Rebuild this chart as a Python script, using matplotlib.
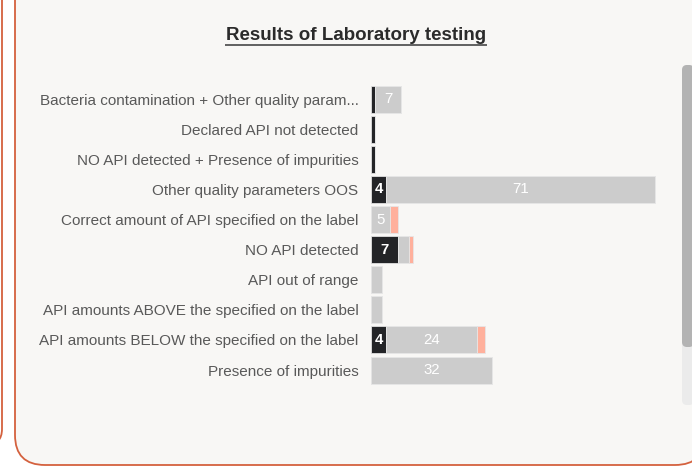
import matplotlib
matplotlib.use("Agg")
import matplotlib.pyplot as plt
from matplotlib.patches import FancyBboxPatch
import numpy as np

plt.rcParams['font.family'] = ['Liberation Sans', 'DejaVu Sans']

categories = [
    "Bacteria contamination + Other quality param...",
    "Declared API not detected",
    "NO API detected + Presence of impurities",
    "Other quality parameters OOS",
    "Correct amount of API specified on the label",
    "NO API detected",
    "API out of range",
    "API amounts ABOVE the specified on the label",
    "API amounts BELOW the specified on the label",
    "Presence of impurities",
]
dark_vals = [1, 1, 1, 4, 0, 7, 0, 0, 4, 0]
grey_vals = [7, 0, 0, 71, 5, 3, 3, 3, 24, 32]
salmon_vals = [0, 0, 0, 0, 2, 1, 0, 0, 2, 0]
title = "Results of Laboratory testing"

W, H = 692, 466
fig = plt.figure(figsize=(W / 100, H / 100), dpi=100)
fig.patch.set_facecolor("white")

# background / card
bg = fig.add_axes([0, 0, 1, 1])
bg.set_xlim(0, W)
bg.set_ylim(H, 0)
bg.axis("off")
border = "#d4613e"
left_panel = FancyBboxPatch((-60, -40), 62, 485, boxstyle="round,pad=0,rounding_size=16",
                            facecolor="white", edgecolor=border, lw=1.3)
bg.add_patch(left_panel)
card = FancyBboxPatch((15, -40), 690, 505, boxstyle="round,pad=0,rounding_size=30",
                      facecolor="#f8f7f5", edgecolor=border, lw=1.3)
bg.add_patch(card)
# scrollbar
track = FancyBboxPatch((682, 65), 12, 340, boxstyle="round,pad=0,rounding_size=5",
                       facecolor="#ebebeb", edgecolor="none")
bg.add_patch(track)
thumb = FancyBboxPatch((682, 65), 12, 282, boxstyle="round,pad=0,rounding_size=5",
                       facecolor="#b3b3b3", edgecolor="none")
bg.add_patch(thumb)
# title
bg.text(356, 35.5, title, ha="center", va="center", fontsize=13.5, fontweight="bold", color="#2b2b2b")
bg.plot([225, 487], [45, 45], color="#555555", lw=1.3, solid_capstyle="butt")

# chart axes
ax_left = 371 / W
ax_w = (79 * 3.79) / W
ax_bottom = 1 - 385.1 / H
ax_h = 301 / H
ax = fig.add_axes([ax_left, ax_bottom, ax_w, ax_h])
ax.set_facecolor("none")
y = np.arange(len(categories))
dark = np.array(dark_vals)
grey = np.array(grey_vals)
salmon = np.array(salmon_vals)
bh = 0.9
ec = "#e6e6e6"
ax.barh(y, dark, height=bh, color="#232427", edgecolor="#e0e0e0", lw=0.6)
ax.barh(y, grey, left=dark, height=bh, color="#cccccc", edgecolor=ec, lw=0.6)
ax.barh(y, salmon, left=dark + grey, height=bh, color="#ffb09c", edgecolor=ec, lw=0.6)

for vals, lefts, bold in ((dark, np.zeros_like(dark), True), (grey, dark, False)):
    for i, (v, l) in enumerate(zip(vals, lefts)):
        if v >= 4:
            ax.text(l + v / 2, i, str(v), ha="center", va="center", color="white",
                    fontsize=10.8, fontweight="bold" if bold else "normal")

ax.set_xlim(0, 79)
ax.set_ylim(len(categories) - 0.5, -0.5)
ax.set_yticks(y)
ax.set_yticklabels(categories, fontsize=10.95, color="#595959")
ax.tick_params(axis="y", length=0, pad=9)
ax.set_xticks([])
for s in ax.spines.values():
    s.set_visible(False)

fig.savefig("out.png", dpi=100, facecolor=fig.get_facecolor())
